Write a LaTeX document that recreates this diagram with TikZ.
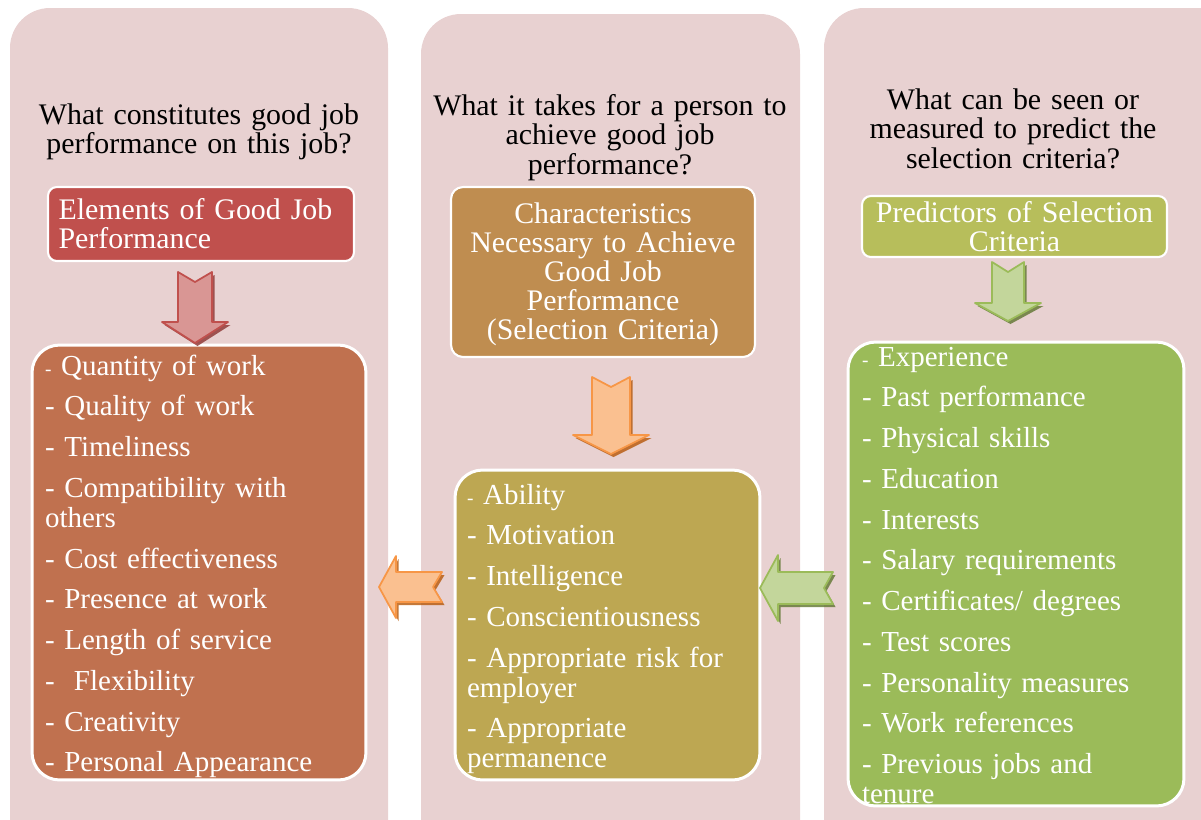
\documentclass[tikz,border=0pt]{standalone}
\usepackage{fontspec}
\setmainfont{Liberation Serif}

\definecolor{panelbg}{HTML}{E8D1D1}
\definecolor{titleA}{HTML}{C0504D}
\definecolor{listA}{HTML}{C0714F}
\definecolor{titleB}{HTML}{BF8D50}
\definecolor{listB}{HTML}{BDA752}
\definecolor{titleC}{HTML}{B7BE5B}
\definecolor{listC}{HTML}{9BBB59}
\definecolor{redFill}{HTML}{D99694}
\definecolor{redEdge}{HTML}{C0504D}
\definecolor{redShade}{HTML}{8C3330}
\definecolor{orFill}{HTML}{FAC090}
\definecolor{orEdge}{HTML}{F79646}
\definecolor{orShade}{HTML}{B65708}
\definecolor{grFill}{HTML}{C3D69B}
\definecolor{grEdge}{HTML}{9BBB59}
\definecolor{grShade}{HTML}{5F7530}

% small leading dash of the first list entry
\newcommand{\sdash}{{\fontsize{11}{11}\selectfont -}}
% invisible strut that lowers a centred text block
\newcommand{\topstrut}[1]{\rule{0pt}{#1}}

% notched block arrow pointing down:
% fill, edge, shadow, centre x, top y, shaft half-width, head half-width, head start y, tip y
\newcommand{\blockdown}[9]{%
  \path[fill=#3, opacity=.8, shift={(#4+2.5,#5+3)}]
    (-#6,0) -- (0,10) -- (#6,0) -- (#6,#8-#5) -- (#7,#8-#5) -- (0,#9-#5)
    -- (-#7,#8-#5) -- (-#6,#8-#5) -- cycle;
  \path[fill=#1, draw=#2, line width=1pt, line join=round, shift={(#4,#5)}]
    (-#6,0) -- (0,10) -- (#6,0) -- (#6,#8-#5) -- (#7,#8-#5) -- (0,#9-#5)
    -- (-#7,#8-#5) -- (-#6,#8-#5) -- cycle;
}
% notched block arrow pointing left:
% fill, edge, shadow, centre y, tip x, head back x, head half-height, shaft half-height, tail x
\newcommand{\blockleft}[9]{%
  \path[fill=#3, opacity=.8, shift={(2.5,3)}]
    (#5,#4) -- (#6,#4-#7) -- (#6,#4-#8) -- (#9,#4-#8) -- (#9-9,#4)
    -- (#9,#4+#8) -- (#6,#4+#8) -- (#6,#4+#7) -- cycle;
  \path[fill=#1, draw=#2, line width=1pt, line join=round]
    (#5,#4) -- (#6,#4-#7) -- (#6,#4-#8) -- (#9,#4-#8) -- (#9-9,#4)
    -- (#9,#4+#8) -- (#6,#4+#8) -- (#6,#4+#7) -- cycle;
}

\tikzset{
  question/.style={text=black, align=center, text width=7.4cm, inner sep=0pt,
    anchor=base, font=\fontsize{17}{17}\selectfont},
  titlebox/.style={draw=white, line width=1.2pt, rounded corners=5pt, text=white,
    inner sep=0pt, font=\fontsize{17}{16.6}\selectfont},
  listbox/.style={draw=white, line width=1.7pt, rounded corners=0.55cm, text=white,
    inner sep=0pt, align=left, font=\fontsize{16.5}{17}\selectfont},
  panel/.style={fill=panelbg, rounded corners=0.8cm},
}

\begin{document}
\begin{tikzpicture}[x=0.02cm, y=-0.02cm]
\useasboundingbox (0,0) rectangle (1201,819);
\clip (0,0) rectangle (1201,819);

% three background columns
\path[panel] (10,8) rectangle (388,900);
\path[panel] (421,14) rectangle (800,900);
\path[panel] (824,8) rectangle (1240,900);

% column questions
\node[question] (q1) at (199,124) {What constitutes good job\\performance on this job?};
\node[question] (q2) at (610,115) {What it takes for a person to\\achieve good job\\performance?};
\node[question] (q3) at (1013,109) {What can be seen or\\measured to predict the\\selection criteria?};

% headings
\node[titlebox, fill=titleA, minimum width=6.12cm, minimum height=1.48cm,
      text width=5.7cm, align=left] (t1) at (201,224)
  {Elements of Good Job\\Performance};
\node[titlebox, fill=titleB, rounded corners=0.24cm, minimum width=6.08cm,
      minimum height=3.4cm, text width=5.9cm, align=center] (t2) at (603,272)
  {\topstrut{14.5pt}Characteristics\\Necessary to Achieve\\Good Job\\Performance\\(Selection Criteria)};
\node[titlebox, fill=titleC, minimum width=6.1cm, minimum height=1.22cm,
      text width=6.0cm, align=center] (t3) at (1014.5,226.5)
  {Predictors of Selection\\Criteria};

% lists
\node[listbox, fill=listA, minimum width=6.68cm, minimum height=8.7cm,
      text width=6.16cm] (l1) at (199,562.5)
  {\topstrut{16pt}\sdash{} Quantity of work\\[6.2pt]
   - Quality of work\\[6.2pt]
   - Timeliness\\[6.2pt]
   - Compatibility with\\others\\[6.2pt]
   - Cost effectiveness\\[6.2pt]
   - Presence at work\\[6.2pt]
   - Length of service\\[6.2pt]
   -\ \ Flexibility\\[6.2pt]
   - Creativity\\[6.2pt]
   - Personal Appearance};
\node[listbox, fill=listB, minimum width=6.1cm, minimum height=6.2cm,
      text width=5.62cm] (l2) at (607.5,625)
  {\topstrut{16pt}\sdash{} Ability\\[6.2pt]
   - Motivation\\[6.2pt]
   - Intelligence\\[6.2pt]
   - Conscientiousness\\[6.2pt]
   - Appropriate risk for\\employer\\[6.2pt]
   - Appropriate\\permanence};
\node[listbox, fill=listC, minimum width=6.72cm, minimum height=9.28cm,
      text width=6.16cm] (l3) at (1016,574)
  {\topstrut{12.5pt}\sdash{} Experience\\[6.2pt]
   - Past performance\\[6.2pt]
   - Physical skills\\[6.2pt]
   - Education\\[6.2pt]
   - Interests\\[6.2pt]
   - Salary requirements\\[6.2pt]
   - Certificates/ degrees\\[6.2pt]
   - Test scores\\[6.2pt]
   - Personality measures\\[6.2pt]
   - Work references\\[6.2pt]
   - Previous jobs and\\tenure};

% block arrows between the boxes
\blockdown{redFill}{redEdge}{redShade}{195}{272}{17}{33}{322}{343}
\blockdown{orFill}{orEdge}{orShade}{611}{377}{19}{38}{435}{454}
\blockdown{grFill}{grEdge}{grShade}{1008}{262}{16}{33}{303}{321}
\blockleft{orFill}{orEdge}{orShade}{587}{379}{396}{31}{15}{442}
\blockleft{grFill}{grEdge}{grShade}{588}{760}{778}{33}{16}{833}
\end{tikzpicture}
\end{document}
